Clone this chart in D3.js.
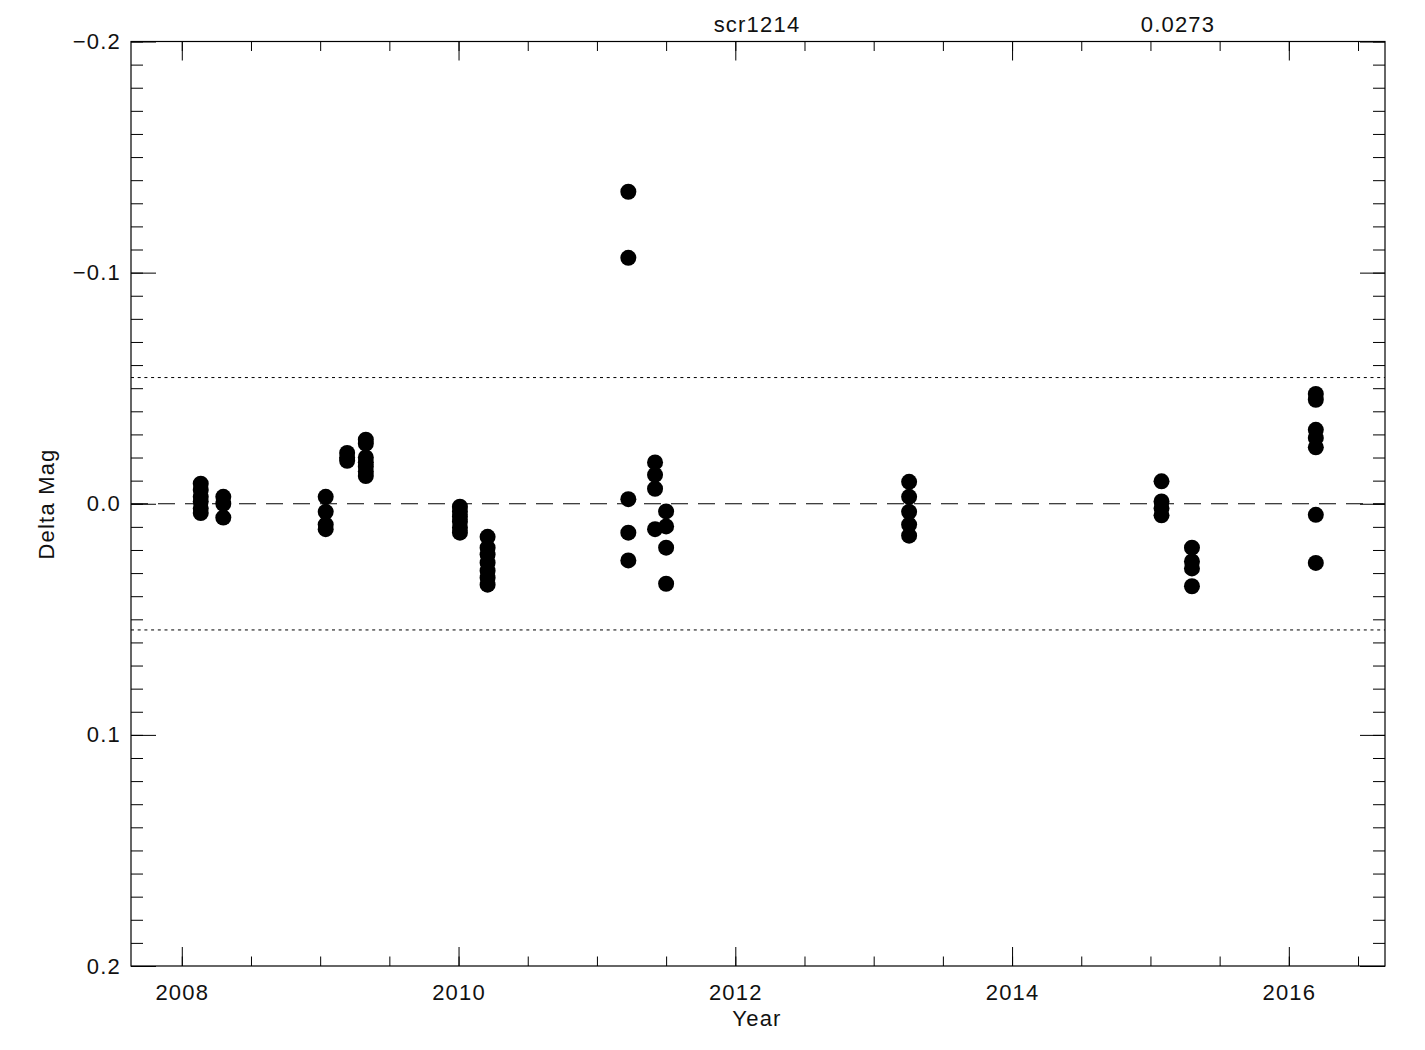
<!DOCTYPE html>
<html>
<head>
<meta charset="utf-8">
<script src="https://cdn.jsdelivr.net/npm/d3@7"></script>
<style>
    body { margin: 0; background: #fff; }
    svg text { font-family: "Liberation Sans", "DejaVu Sans", sans-serif; fill: #111; letter-spacing: 1.2px; }
    .axis path { display: none; }
    .axis line { stroke: #000; stroke-width: 1; }
</style>
</head>
<body>
<div id="scene"></div>
<script>
// observation epochs (decimal year) and delta mag, one entry per point
const obsYear = [
    2008.137, 2008.137, 2008.137, 2008.137, 2008.137, 2008.137,
    2008.30, 2008.30, 2008.30,
    2009.04, 2009.04, 2009.04, 2009.04,
    2009.195, 2009.195, 2009.195,
    2009.33, 2009.33, 2009.33, 2009.33, 2009.33, 2009.33, 2009.33,
    2010.01, 2010.01, 2010.01, 2010.01, 2010.01, 2010.01,
    2010.21, 2010.21, 2010.21, 2010.21, 2010.21, 2010.21, 2010.21,
    2011.227, 2011.227, 2011.227, 2011.227, 2011.227,
    2011.42, 2011.42, 2011.42, 2011.42,
    2011.50, 2011.50, 2011.50, 2011.50,
    2013.256, 2013.256, 2013.256, 2013.256, 2013.256,
    2015.08, 2015.08, 2015.08, 2015.08,
    2015.30, 2015.30, 2015.30, 2015.30,
    2016.195, 2016.195, 2016.195, 2016.195, 2016.195, 2016.195, 2016.195
];
const deltaMag = [
    -0.0087, -0.006, -0.003, -0.001, 0.002, 0.004,
    -0.003, 0.000, 0.006,
    -0.003, 0.0035, 0.009, 0.011,
    -0.022, -0.020, -0.0186,
    -0.0277, -0.026, -0.020, -0.018, -0.016, -0.014, -0.012,
    0.0013, 0.0035, 0.0056, 0.0078, 0.0104, 0.0125,
    0.0143, 0.019, 0.022, 0.0255, 0.029, 0.032, 0.035,
    -0.135, -0.1064, -0.002, 0.0125, 0.0245,
    -0.0179, -0.0125, -0.0065, 0.011,
    0.0033, 0.0098, 0.019, 0.0346,
    -0.0095, -0.003, 0.0035, 0.009, 0.0138,
    -0.0097, -0.001, 0.002, 0.005,
    0.019, 0.025, 0.028, 0.0357,
    -0.0475, -0.045, -0.032, -0.0285, -0.0244, 0.0048, 0.0256
];

const starName = 'scr1214';
const sigma = 0.0273;

const xMajorTicks = [2008, 2010, 2012, 2014, 2016];
const xMinorTicks = [2008, 2008.5, 2009, 2009.5, 2010, 2010.5, 2011, 2011.5, 2012, 2012.5,
    2013, 2013.5, 2014, 2014.5, 2015, 2015.5, 2016, 2016.5];
const yMajorTicks = [-0.2, -0.1, 0.0, 0.1, 0.2];
const yTickLabels = ['\u22120.2', '\u22120.1', '0.0', '0.1', '0.2'];
const yMinorTicks = d3.range(-20, 21).map(d => d / 100);

const width = 1425;
const height = 1050;
const plotLeft = 131, plotRight = 1385, plotTop = 41.5, plotBottom = 966;

const xScale = d3.scaleLinear().domain([2007.633, 2016.695]).range([plotLeft, plotRight]);
const yScale = d3.scaleLinear().domain([-0.2, 0.2]).range([plotTop, plotBottom]);

const svg = d3.select('#scene')
    .append('svg')
    .attr('width', width)
    .attr('height', height);

// bottom axis, ticks pointing in
svg.append('g').attr('class', 'axis')
    .attr('transform', `translate(0,${plotBottom})`)
    .call(d3.axisBottom(xScale).tickValues(xMinorTicks).tickSize(-9.5).tickSizeOuter(0).tickFormat(''));
svg.append('g').attr('class', 'axis')
    .attr('transform', `translate(0,${plotBottom})`)
    .call(d3.axisBottom(xScale).tickValues(xMajorTicks).tickSize(-19).tickSizeOuter(0)
        .tickPadding(18).tickFormat(d3.format('d')))
    .selectAll('text').style('font-size', '22px');

// top axis
svg.append('g').attr('class', 'axis')
    .attr('transform', `translate(0,${plotTop})`)
    .call(d3.axisTop(xScale).tickValues(xMinorTicks).tickSize(-9.5).tickSizeOuter(0).tickFormat(''));
svg.append('g').attr('class', 'axis')
    .attr('transform', `translate(0,${plotTop})`)
    .call(d3.axisTop(xScale).tickValues(xMajorTicks).tickSize(-19).tickSizeOuter(0).tickFormat(''));

// left axis
svg.append('g').attr('class', 'axis')
    .attr('transform', `translate(${plotLeft},0)`)
    .call(d3.axisLeft(yScale).tickValues(yMinorTicks).tickSize(-12).tickSizeOuter(0).tickFormat(''));
svg.append('g').attr('class', 'axis')
    .attr('transform', `translate(${plotLeft},0)`)
    .call(d3.axisLeft(yScale).tickValues(yMajorTicks).tickSize(-25).tickSizeOuter(0)
        .tickPadding(10).tickFormat((d, i) => yTickLabels[i]))
    .selectAll('text').style('font-size', '22px');

// right axis
svg.append('g').attr('class', 'axis')
    .attr('transform', `translate(${plotRight},0)`)
    .call(d3.axisRight(yScale).tickValues(yMinorTicks).tickSize(-12).tickSizeOuter(0).tickFormat(''));
svg.append('g').attr('class', 'axis')
    .attr('transform', `translate(${plotRight},0)`)
    .call(d3.axisRight(yScale).tickValues(yMajorTicks).tickSize(-25).tickSizeOuter(0).tickFormat(''));

// frame
svg.append('rect')
    .attr('x', plotLeft).attr('y', plotTop)
    .attr('width', plotRight - plotLeft).attr('height', plotBottom - plotTop)
    .attr('fill', 'none').attr('stroke', '#000').attr('stroke-width', 1.2);

// zero line and +-2 sigma lines
svg.append('line')
    .attr('x1', plotLeft).attr('x2', plotRight)
    .attr('y1', yScale(0)).attr('y2', yScale(0))
    .attr('stroke', '#000').attr('stroke-dasharray', '17,10');

[-2 * sigma, 2 * sigma].forEach(v => {
    svg.append('line')
        .attr('x1', plotLeft).attr('x2', plotRight)
        .attr('y1', yScale(v)).attr('y2', yScale(v))
        .attr('stroke', '#000').attr('stroke-dasharray', '3,3.7');
});

// points
svg.selectAll('.pt')
    .data(obsYear.map((d, i) => ({ x: d, y: deltaMag[i] })))
    .enter().append('circle')
    .attr('class', 'pt')
    .attr('cx', d => xScale(d.x))
    .attr('cy', d => yScale(d.y))
    .attr('r', 8)
    .attr('fill', '#000');

// labels
svg.append('text')
    .attr('x', 757).attr('y', 32)
    .attr('text-anchor', 'middle')
    .style('font-size', '22px')
    .text(starName);

svg.append('text')
    .attr('x', 1178).attr('y', 32)
    .attr('text-anchor', 'middle')
    .style('font-size', '22px')
    .text(sigma.toFixed(4));

svg.append('text')
    .attr('x', 757).attr('y', 1026)
    .attr('text-anchor', 'middle')
    .style('font-size', '22px')
    .text('Year');

svg.append('text')
    .attr('transform', `translate(54,504) rotate(-90)`)
    .attr('text-anchor', 'middle')
    .style('font-size', '22px')
    .text('Delta Mag');
</script>
</body>
</html>
